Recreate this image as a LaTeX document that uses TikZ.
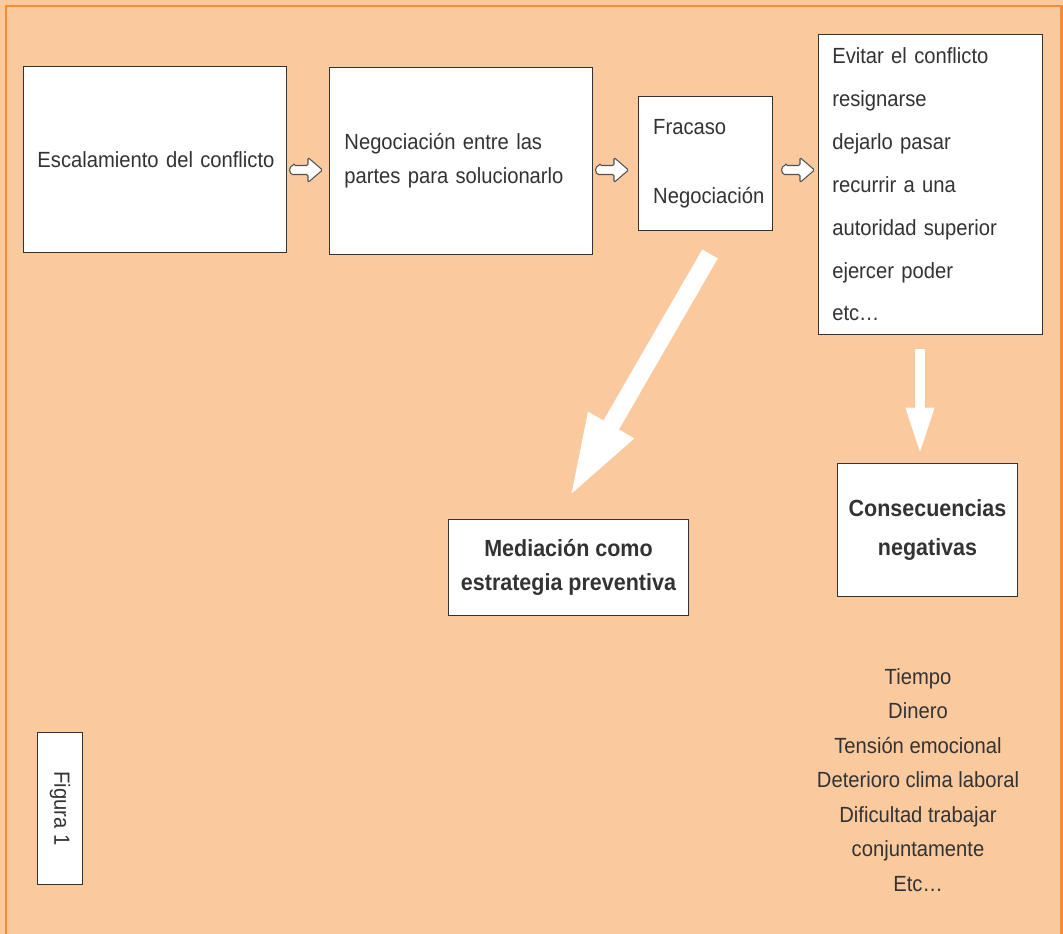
\documentclass[tikz,border=0pt]{standalone}
\usepackage{fontspec}
\setmainfont{Liberation Sans}[FakeStretch=0.92]
\usetikzlibrary{arrows.meta}
\definecolor{fondo}{RGB}{250,201,158}
\definecolor{borde}{RGB}{245,139,52}
\definecolor{trazo}{RGB}{51,51,51}
\tikzset{
	caja/.style={draw=trazo, fill=white, line width=0.7pt, text=trazo, inner ysep=0pt},
	flechita/.style={draw=trazo!85, fill=white, line width=0.6pt, rounded corners=0.8pt},
	flechota/.style={draw=white, line width=#1},
	texto/.style={font=\fontsize{12.5}{19.5}\selectfont, text=trazo},
	negrita/.style={font=\fontsize{13.3}{#1}\selectfont\bfseries}
}
\def\flechita(#1){\draw[flechita, shift={(#1)}] (-12, -4.5) -- (2, -4.5) -- (2, -12.5) -- (16.5, 0) -- (2, 12.5) -- (2, 4.5) -- (-12, 4.5) arc (90:270:4.5) -- cycle;}

\begin{document}
\begin{tikzpicture}[x=0.02cm, y=-0.02cm]
			%%%%% START %%%%%
			
			\fill[fondo] (0, 0) rectangle (1063, 934);
			\useasboundingbox (0, 0) rectangle (1063, 934);
			\draw[borde, line width=1.5pt] (6, 934) -- (6, 6) -- (1061.5, 6) -- (1061.5, 934);
			
			% fila de arriba
			\node[caja, texto, minimum width=149.7pt, minimum height=106pt, text width=133.8pt, inner xsep=7.9pt, align=left] (escala) at (155, 159.5) {\mbox{Escalamiento del conflicto}};
			\node[caja, texto, minimum width=149.7pt, minimum height=106.6pt, text width=132.7pt, inner xsep=8.5pt, align=left] (nego) at (461, 161) {Negociación entre las\\partes para solucionarlo};
			\node[caja, texto, minimum width=76.5pt, minimum height=76.5pt, text width=59.5pt, inner xsep=8.5pt, align=left] (fracaso) at (705.5, 163.5) {Fracaso\\[20pt]Negociación};
			\node[caja, font=\fontsize{12.5}{24.4}\selectfont, minimum width=127.6pt, minimum height=170.6pt, text width=111.8pt, inner xsep=7.9pt, align=left] (evitar) at (930.5, 184.5) {Evitar el conflicto\\resignarse\\dejarlo pasar\\recurrir a una\\autoridad superior\\ejercer poder\\etc\dots};
			
			\flechita(306, 170)
			\flechita(612, 170)
			\flechita(798, 170)
			
			% flechas grandes
			\coordinate (d1) at (710, 254);
			\coordinate (d2) at (569, 498);
			\draw[flechota=10.2pt, -{Triangle[length=48pt, width=27pt, fill=white]}] (d1) -- (d2);
			\coordinate (v1) at (920, 349);
			\coordinate (v2) at (920, 455);
			\draw[flechota=5.7pt, -{Triangle[length=27pt, width=14.7pt, fill=white]}] (v1) -- (v2);
			
			% cajas de abajo
			\node[caja, negrita=19.8, minimum width=136.6pt, minimum height=55pt, align=center] (media) at (568.5, 567.5) {Mediación como\\estrategia preventiva};
			\node[caja, negrita=22.7, minimum width=102.6pt, minimum height=76pt, align=center] (conse) at (927.5, 530) {Consecuencias\\negativas};
			
			\node[texto, font=\fontsize{12.5}{19.65}\selectfont, align=center] (lista) at (918, 780) {Tiempo\\Dinero\\Tensión emocional\\Deterioro clima laboral\\Dificultad trabajar\\conjuntamente\\Etc\dots};
			
			\node[caja, texto, minimum width=86.7pt, minimum height=26pt, rotate=-90] (figura) at (60, 808.5) {Figura 1};
			
			%%%%% END %%%%%
\end{tikzpicture}
\end{document}
